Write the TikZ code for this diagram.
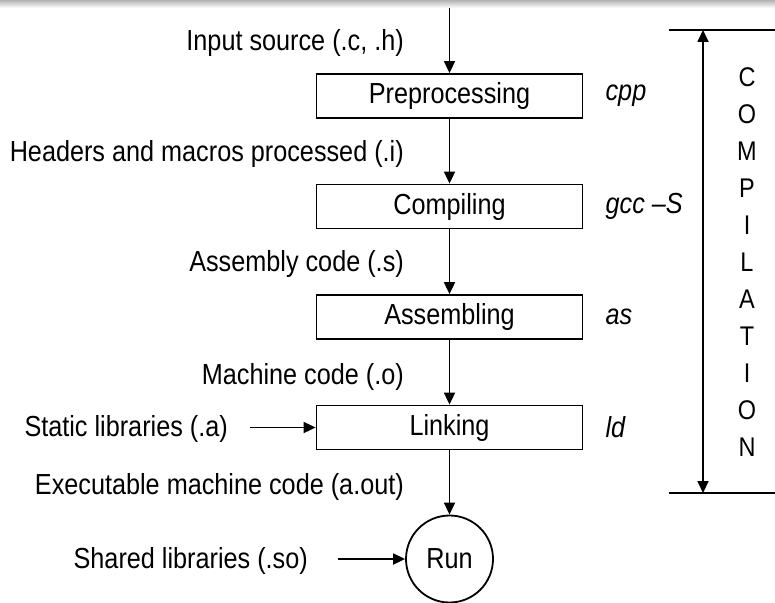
\documentclass[tikz,border=0pt]{standalone}
\usepackage{fontspec}
\setmainfont{Liberation Sans}[FakeStretch=0.87]
\usetikzlibrary{positioning,arrows.meta}
\tikzset{
  stage/.style = {rectangle, draw, line width=1.8pt,
                  minimum width=266pt, minimum height=44pt,
                  inner sep=0pt},
  arr/.style   = {-{Triangle[length=12pt,width=11pt]}, line width=1.8pt},
  dbl/.style   = {{Triangle[length=12pt,width=11pt]}-{Triangle[length=12pt,width=11pt]},
                  line width=1.8pt},
  lab/.style   = {inner sep=0pt, anchor=east},
  cmd/.style   = {inner sep=0pt, font=\fontsize{29}{33}\selectfont\itshape}
}
\begin{document}
\begin{tikzpicture}[x=1pt, y=-1pt,
  every node/.style={font=\fontsize{29}{33}\selectfont},
  letter/.style={inner sep=0pt, font=\fontsize{27}{31}\selectfont}
]
  \useasboundingbox (0,0) rectangle (775,602);
  \shade[top color=gray!60, bottom color=white] (0,0) rectangle (775,8);

  % Stages
  \node[stage] (prep) at (449.5,96)    {Preprocessing};
  \node[stage] (comp) at (449.5,206.5) {Compiling};
  \node[stage] (asm)  at (449.5,317)   {Assembling};
  \node[stage] (link) at (449.5,427.5) {Linking};
  \node[circle, draw, line width=1.8pt, minimum size=87pt, inner sep=0pt]
    (run) at (449.5,559) {Run};

  % Tools
  \node[cmd, right=22pt of prep] (cpp) {cpp};
  \node[cmd, right=22pt of comp] (gcc) {gcc –S};
  \node[cmd, right=22pt of asm]  (as)  {as};
  \node[cmd, right=22pt of link] (ld)  {ld};

  % File types
  \node[lab] (src)  at (404,43)    {Input source (.c, .h)};
  \node[lab] (hdr)  at (404,154)   {Headers and macros processed (.i)};
  \node[lab] (asmc) at (404,264)   {Assembly code (.s)};
  \node[lab] (obj)  at (404,377)   {Machine code (.o)};
  \node[lab] (exe)  at (404,487)   {Executable machine code (a.out)};
  \node[lab] (stat) at (228,429)   {Static libraries (.a)};
  \node[lab] (shrd) at (308,561)   {Shared libraries (.so)};

  \coordinate (in) at (449.5,8);
  \draw[arr] (in) -- (prep);
  \draw[arr] (prep) -- (comp);
  \draw[arr] (comp) -- (asm);
  \draw[arr] (asm) -- (link);
  \draw[arr] (link) -- (run);
  \draw[arr] ([xshift=22pt]stat.east |- link.west) -- (link.west);
  \draw[arr] ([xshift=30pt]shrd.east |- run.west) -- (run.west);

  % Compilation span
  \coordinate (spantop) at (703,30);
  \coordinate (spanbot) at (703,493);
  \draw[line width=1.8pt] (669,30) -- (775,30);
  \draw[line width=1.8pt] (669,493) -- (775,493);
  \draw[dbl] (spantop) -- (spanbot);
  \foreach \l [count=\i] in {C,O,M,P,I,L,A,T,I,O,N}
    \node[letter] (let\i) at (747,40+37*\i) {\l};
\end{tikzpicture}
\end{document}
